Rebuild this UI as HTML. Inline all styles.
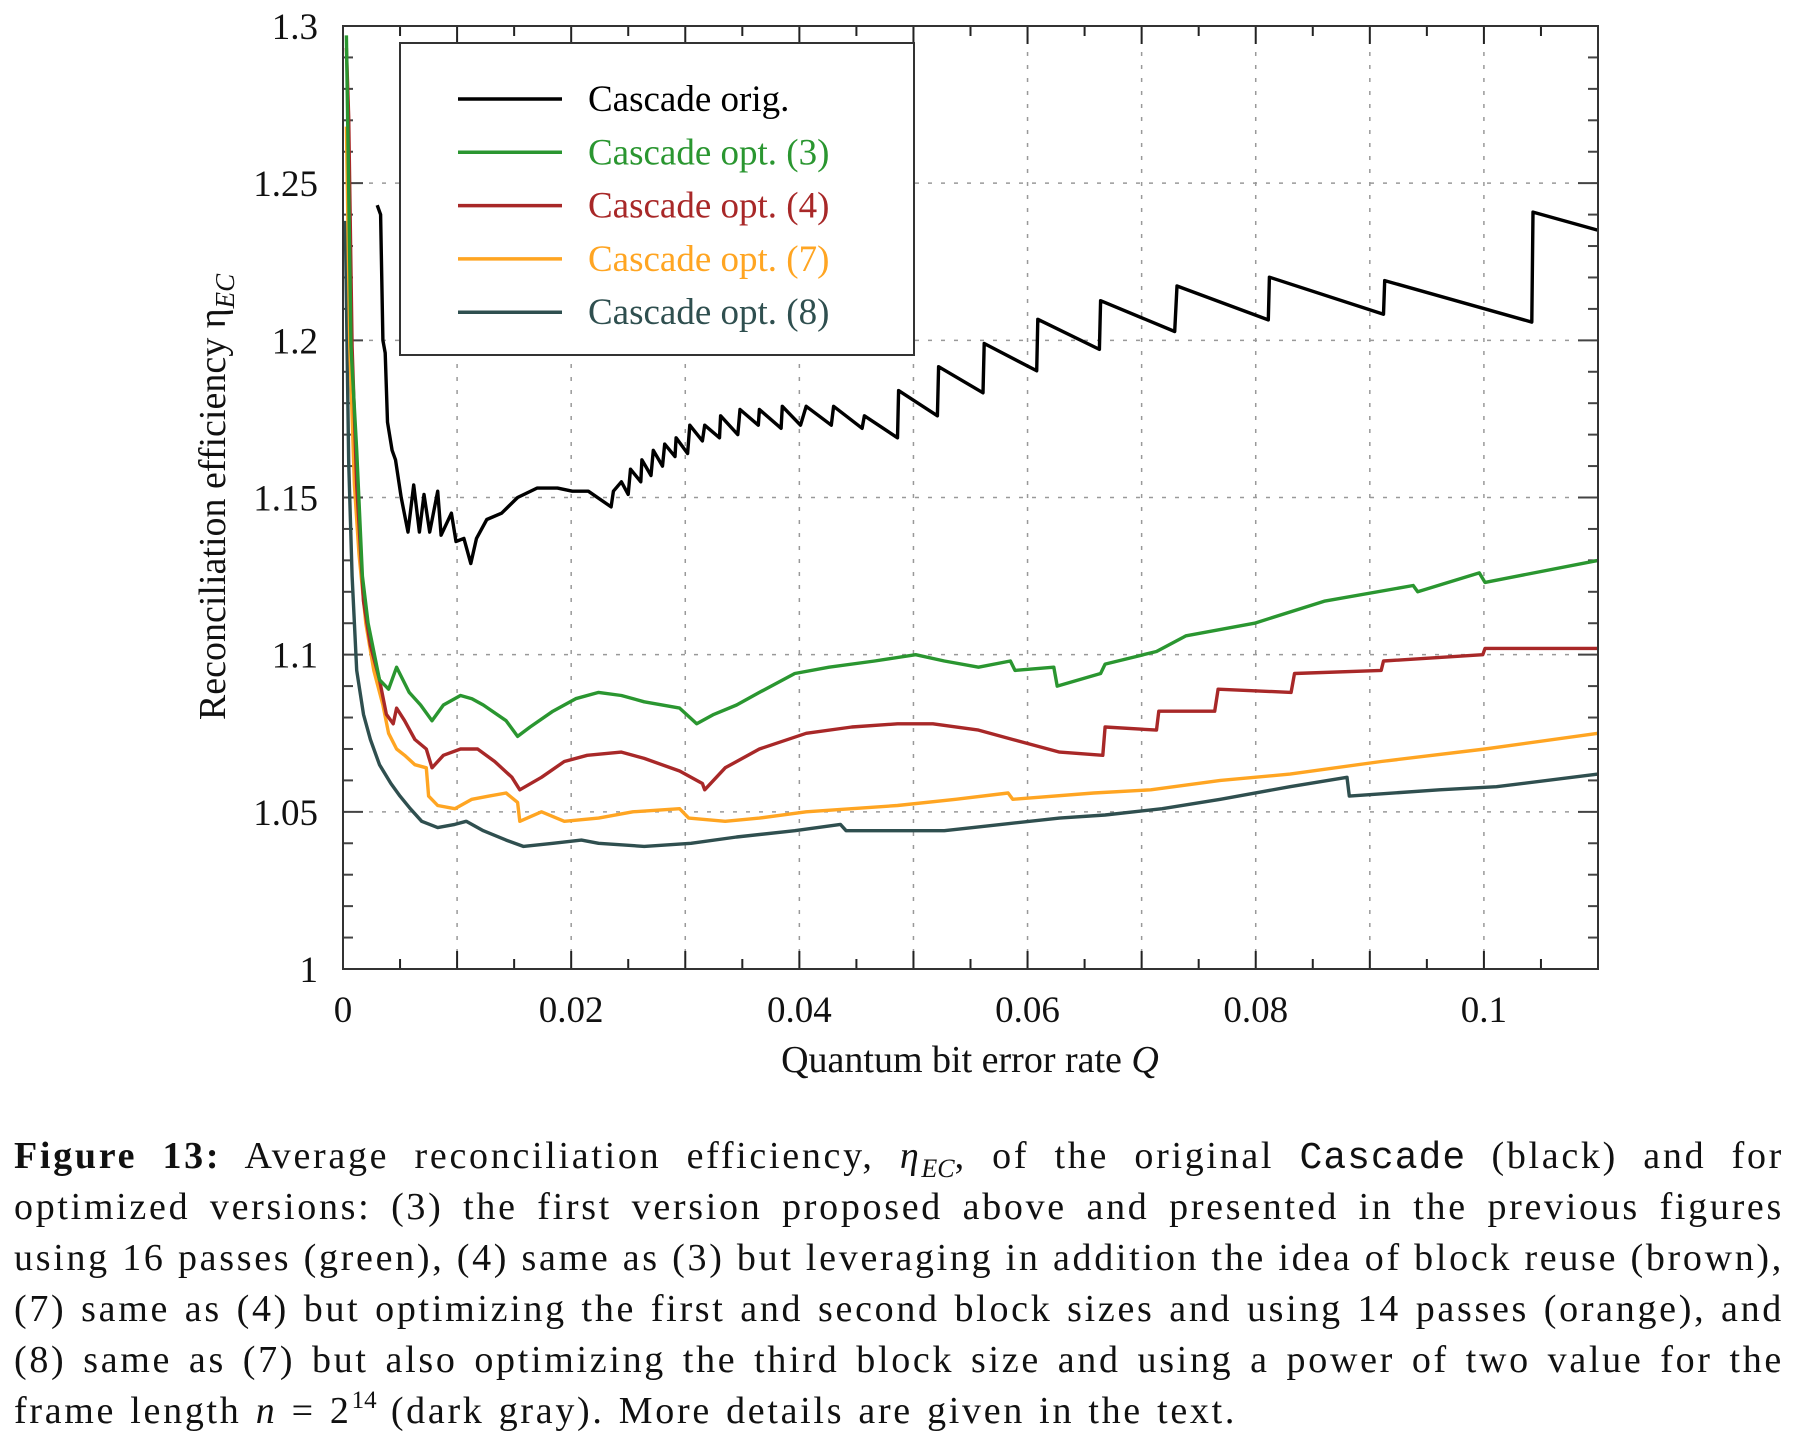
<!DOCTYPE html>
<html><head><meta charset="utf-8"><style>
body{margin:0;background:#fff;width:1804px;height:1436px;overflow:hidden;position:relative;font-family:"Liberation Serif",serif;}
.cap{position:absolute;left:14px;width:1770px;font-size:38px;letter-spacing:2.7px;word-spacing:-2px;line-height:44px;height:44px;text-align:justify;text-align-last:justify;white-space:nowrap;color:#111}
.cap.last{text-align-last:left;word-spacing:2px}
.mono{font-family:"Liberation Mono",monospace;letter-spacing:1px}
.sb{font-size:26px;position:relative;top:9px;vertical-align:baseline;letter-spacing:0}
.sp{font-size:25px;position:relative;top:-15px;vertical-align:baseline;letter-spacing:0}
</style></head><body>
<svg id="chart" width="1804" height="1100" style="position:absolute;left:0;top:0" font-family="Liberation Serif, serif"></svg>
<div class="cap" style="top:1134px"><b>Figure 13:</b> Average reconciliation efficiency, <i>η<span class="sb">EC</span></i>, of the original <span class="mono">Cascade</span> (black) and for</div>
<div class="cap" style="top:1185px">optimized versions: (3) the first version proposed above and presented in the previous figures</div>
<div class="cap" style="top:1236px">using 16 passes (green), (4) same as (3) but leveraging in addition the idea of block reuse (brown),</div>
<div class="cap" style="top:1287px">(7) same as (4) but optimizing the first and second block sizes and using 14 passes (orange), and</div>
<div class="cap" style="top:1338px">(8) same as (7) but also optimizing the third block size and using a power of two value for the</div>
<div class="cap last" style="top:1389px">frame length <i>n</i> = 2<span class="sp">14</span> (dark gray). More details are given in the text.</div>
<script>
const blackQ=[0.0030,0.0033,0.0035,0.0037,0.0039,0.0043,0.0046,0.0051,0.0057,0.0062,0.0067,0.0071,0.0076,0.0083,0.0086,0.0095,0.0099,0.0106,0.0112,0.0117,0.0126,0.0139,0.0153,0.0170,0.0188,0.0201,0.0215,0.0235,0.0237,0.0244,0.0250,0.0252,0.0261,0.0262,0.0270,0.0272,0.0280,0.0282,0.0291,0.0292,0.0302,0.0304,0.0315,0.0317,0.0330,0.0331,0.0346,0.0348,0.0364,0.0365,0.0384,0.0385,0.0401,0.0406,0.0428,0.0430,0.0455,0.0457,0.0486,0.0487,0.0521,0.0522,0.0561,0.0562,0.0608,0.0609,0.0663,0.0664,0.0729,0.0731,0.0811,0.0812,0.0912,0.0913,0.1042,0.1043,0.1100];
const blackV=[1.243,1.240,1.200,1.196,1.174,1.165,1.162,1.150,1.139,1.154,1.139,1.151,1.139,1.152,1.138,1.145,1.136,1.137,1.129,1.137,1.143,1.145,1.150,1.153,1.153,1.152,1.152,1.147,1.152,1.155,1.151,1.159,1.155,1.162,1.157,1.165,1.160,1.167,1.163,1.169,1.164,1.173,1.168,1.173,1.169,1.176,1.170,1.178,1.173,1.178,1.172,1.179,1.173,1.179,1.173,1.179,1.172,1.176,1.169,1.184,1.176,1.1916,1.1833,1.199,1.1903,1.2067,1.1971,1.2126,1.2028,1.2173,1.2065,1.2201,1.2083,1.219,1.2058,1.2408,1.2350];
const greenQ=[0.0003,0.0007,0.0012,0.0017,0.0022,0.0032,0.0040,0.0047,0.0058,0.0068,0.0078,0.0088,0.0103,0.0113,0.0123,0.0143,0.0153,0.0164,0.0184,0.0204,0.0224,0.0244,0.0264,0.0295,0.0310,0.0325,0.0345,0.0365,0.0396,0.0426,0.0466,0.0502,0.0527,0.0557,0.0585,0.0589,0.0623,0.0626,0.0664,0.0668,0.0713,0.0739,0.0799,0.0860,0.0938,0.0942,0.0996,0.1001,0.1100];
const greenV=[1.297,1.198,1.165,1.125,1.110,1.092,1.089,1.096,1.088,1.084,1.079,1.084,1.087,1.086,1.084,1.079,1.074,1.077,1.082,1.086,1.088,1.087,1.085,1.083,1.078,1.081,1.084,1.088,1.094,1.096,1.098,1.100,1.098,1.096,1.098,1.095,1.096,1.090,1.094,1.097,1.101,1.106,1.110,1.117,1.122,1.120,1.126,1.123,1.130];
const redQ=[0.0003,0.0005,0.0008,0.0012,0.0018,0.0024,0.0032,0.0038,0.0044,0.0047,0.0054,0.0063,0.0073,0.0078,0.0088,0.0103,0.0118,0.0133,0.0148,0.0155,0.0174,0.0194,0.0214,0.0244,0.0264,0.0295,0.0315,0.0317,0.0335,0.0365,0.0406,0.0446,0.0486,0.0517,0.0557,0.0587,0.0628,0.0666,0.0668,0.0713,0.0715,0.0764,0.0767,0.0831,0.0834,0.0910,0.0912,0.0999,0.1001,0.1100];
const redV=[1.293,1.271,1.198,1.154,1.117,1.103,1.092,1.081,1.078,1.083,1.079,1.073,1.070,1.064,1.068,1.070,1.070,1.066,1.061,1.057,1.061,1.066,1.068,1.069,1.067,1.063,1.059,1.057,1.064,1.070,1.075,1.077,1.078,1.078,1.076,1.073,1.069,1.068,1.077,1.076,1.082,1.082,1.089,1.088,1.094,1.095,1.098,1.100,1.102,1.102];
const orangeQ=[0.0003,0.0006,0.0010,0.0014,0.0020,0.0027,0.0035,0.0040,0.0047,0.0054,0.0063,0.0073,0.0075,0.0083,0.0098,0.0113,0.0128,0.0143,0.0153,0.0155,0.0174,0.0194,0.0224,0.0254,0.0295,0.0303,0.0335,0.0365,0.0406,0.0446,0.0486,0.0537,0.0583,0.0587,0.0658,0.0708,0.0769,0.0830,0.0910,0.1001,0.1100];
const orangeV=[1.268,1.198,1.154,1.132,1.110,1.095,1.084,1.075,1.070,1.068,1.065,1.064,1.055,1.052,1.051,1.054,1.055,1.056,1.053,1.047,1.050,1.047,1.048,1.050,1.051,1.048,1.047,1.048,1.050,1.051,1.052,1.054,1.056,1.054,1.056,1.057,1.060,1.062,1.066,1.070,1.075];
const grayQ=[0.0002,0.0005,0.0008,0.0012,0.0018,0.0024,0.0032,0.0042,0.0050,0.0059,0.0069,0.0083,0.0098,0.0108,0.0123,0.0143,0.0158,0.0184,0.0209,0.0224,0.0264,0.0305,0.0345,0.0396,0.0436,0.0441,0.0486,0.0527,0.0577,0.0628,0.0668,0.0718,0.0769,0.0830,0.0880,0.0882,0.0961,0.1011,0.1100];
const grayV=[1.238,1.161,1.125,1.095,1.081,1.073,1.065,1.059,1.055,1.051,1.047,1.045,1.046,1.047,1.044,1.041,1.039,1.040,1.041,1.040,1.039,1.040,1.042,1.044,1.046,1.044,1.044,1.044,1.046,1.048,1.049,1.051,1.054,1.058,1.061,1.055,1.057,1.058,1.062];
const xTickLabels=["0","0.02","0.04","0.06","0.08","0.1"];
const xTickValues=[0,0.02,0.04,0.06,0.08,0.1];
const yTickLabels=["1","1.05","1.1","1.15","1.2","1.25","1.3"];
const yTickValues=[1,1.05,1.1,1.15,1.2,1.25,1.3];
const legendNames=["Cascade orig.","Cascade opt. (3)","Cascade opt. (4)","Cascade opt. (7)","Cascade opt. (8)"];

const X0=343,X1=1598,Y0=26,Y1=969,QMAX=0.11,VMIN=1,VMAX=1.3;
const sx=q=>X0+q/QMAX*(X1-X0);
const sy=v=>Y1-(v-VMIN)/(VMAX-VMIN)*(Y1-Y0);
const svg=document.getElementById('chart');
const NS='http://www.w3.org/2000/svg';
function mk(tag,attrs,parent){const e=document.createElementNS(NS,tag);for(const k in attrs)e.setAttribute(k,attrs[k]);(parent||svg).appendChild(e);return e;}
for(let i=1;i<=10;i++){const x=sx(i*0.01);
const g=mk('line',{x1:x,x2:x,y1:Y0,y2:Y1,stroke:'#999','stroke-width':1.5,'stroke-dasharray':'4,9'});

}
for(let i=1;i<=5;i++){const y=sy(1+i*0.05);
const g=mk('line',{x1:X0,x2:X1,y1:y,y2:y,stroke:'#999','stroke-width':1.5,'stroke-dasharray':'4,9'});

}
for(let i=0;i<=22;i++){const x=sx(i*0.005);const L=(i%2==0)?18:10;
mk('line',{x1:x,x2:x,y1:Y1,y2:Y1-L,stroke:'#222','stroke-width':2});
mk('line',{x1:x,x2:x,y1:Y0,y2:Y0+L,stroke:'#222','stroke-width':2});}
for(let i=0;i<=30;i++){const y=sy(1+i*0.01);const L=(i%5==0)?20:10;
mk('line',{x1:X0,x2:X0+L,y1:y,y2:y,stroke:'#444','stroke-width':2});
mk('line',{x1:X1,x2:X1-L,y1:y,y2:y,stroke:'#444','stroke-width':2});}
function series(Q,V,color,name){
let d=Q.map((q,i)=>(i?'L':'M')+sx(q).toFixed(1)+' '+sy(V[i]).toFixed(1)).join(' ');
const p=mk('path',{d:d,fill:'none',stroke:color,'stroke-width':3.4,'stroke-linejoin':'round'});

}
series(grayQ,grayV,'#2f4f4f','series-opt-8');
series(orangeQ,orangeV,'#ffa522','series-opt-7');
series(redQ,redV,'#a82828','series-opt-4');
series(greenQ,greenV,'#2a9630','series-opt-3');
series(blackQ,blackV,'#000','series-cascade-orig');
const fr=mk('rect',{x:X0,y:Y0,width:X1-X0,height:Y1-Y0,fill:'none',stroke:'#333','stroke-width':2});


xTickValues.forEach((v,i)=>{const t=mk('text',{x:sx(v),y:1022,'text-anchor':'middle','font-size':37,fill:'#111'});t.textContent=xTickLabels[i];

});
yTickValues.forEach((v,i)=>{const t=mk('text',{x:318,y:sy(v)+13,'text-anchor':'end','font-size':37,fill:'#111'});t.textContent=yTickLabels[i];

});
const xt=mk('text',{x:970,y:1072,'text-anchor':'middle','font-size':38,fill:'#111'});
xt.innerHTML='Quantum bit error rate <tspan font-style="italic">Q</tspan>';


const yt=mk('text',{x:0,y:0,'text-anchor':'middle','font-size':38,fill:'#111',transform:'translate(225,497) rotate(-90)'});
yt.innerHTML='Reconciliation efficiency η<tspan font-style="italic" font-size="27" dy="9">EC</tspan>';


const lg=mk('g',{});


mk('rect',{x:400,y:43,width:514,height:312,fill:'#fff',stroke:'#333','stroke-width':2},lg);
const lc=['#000','#2a9630','#a82828','#ffa522','#2f4f4f'];
legendNames.forEach((n,i)=>{const y=99+i*53.3;
const e=mk('g',{},lg);


mk('line',{x1:458,x2:562,y1:y,y2:y,stroke:lc[i],'stroke-width':3.5},e);
const t=mk('text',{x:588,y:y+12,'font-size':37,fill:lc[i]},e);t.textContent=n;});
</script>
</body></html>
